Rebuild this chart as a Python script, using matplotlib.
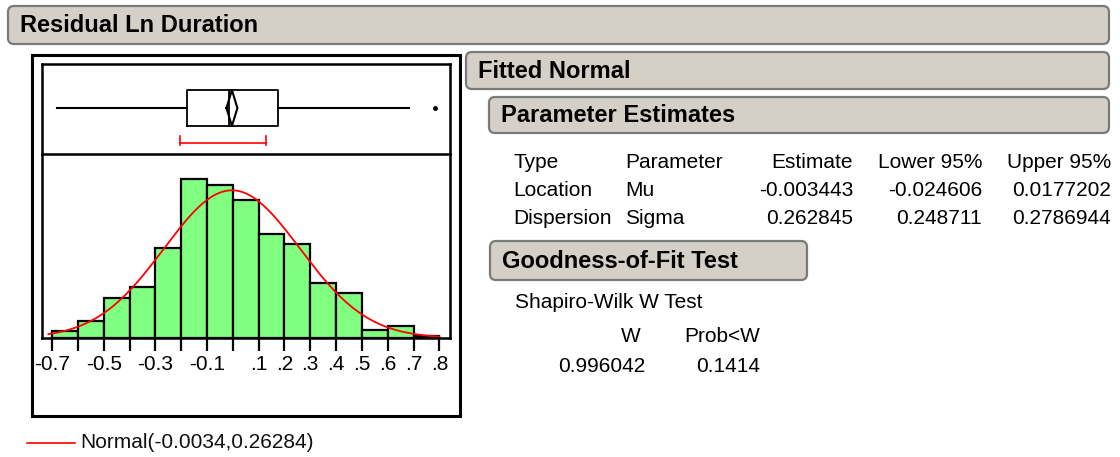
"""Residual Ln Duration: distribution report (box plot, histogram, fitted normal).

"""

import numpy as np
import matplotlib.pyplot as plt
from matplotlib.patches import FancyBboxPatch, Rectangle

plt.rcParams["font.family"] = ["Liberation Sans", "DejaVu Sans"]

# Histogram data (bins of width 0.1)
bin_left = [-0.7, -0.6, -0.5, -0.4, -0.3, -0.2, -0.1, 0.0, 0.1, 0.2, 0.3, 0.4, 0.5, 0.6, 0.7]
bin_width = 0.1
counts = [4, 10, 24, 31, 54, 96, 92, 83, 63, 57, 33, 27, 5, 7, 1]

# Box plot summary
whisker_lo, q1, median, q3, whisker_hi = -0.681, -0.176, -0.015, 0.175, 0.684
outliers = [0.784]
shortest_half = [-0.204, 0.128]

# Axis ticks
tick_values = [-0.7, -0.6, -0.5, -0.4, -0.3, -0.2, -0.1, 0.0, 0.1, 0.2, 0.3, 0.4, 0.5, 0.6, 0.7, 0.8]
tick_labels = ["-0.7", "", "-0.5", "", "-0.3", "", "-0.1", "", ".1", ".2", ".3", ".4", ".5", ".6", ".7", ".8"]

# Parameter estimates table
pe_header = ["Type", "Parameter", "Estimate", "Lower 95%", "Upper 95%"]
pe_type = ["Location", "Dispersion"]
pe_param = ["Mu", "Sigma"]
pe_estimate = [-0.003443, 0.262845]
pe_lower = [-0.024606, 0.248711]
pe_upper = [0.0177202, 0.2786944]

# Goodness-of-fit
sw_header = ["W", "Prob<W"]
sw_values = [0.996042, 0.1414]

mu, sigma = pe_estimate
W, H = 1120, 457

fig = plt.figure(figsize=(W / 100, H / 100), dpi=100)

# Background layer in pixel coordinates
bg = fig.add_axes([0, 0, 1, 1], zorder=0)
bg.set_xlim(0, W)
bg.set_ylim(H, 0)
bg.axis("off")

def header(x0, y0, x1, y1, label):
    box = FancyBboxPatch((x0, y0), x1 - x0, y1 - y0,
                         boxstyle="round,pad=0,rounding_size=6",
                         fc="#D4D0C8", ec="#7A7A7A", lw=1.6)
    bg.add_patch(box)
    bg.text(x0 + 12, (y0 + y1) / 2 + 1, label, fontsize=17, fontweight="bold",
            ha="left", va="center", color="black")

header(8, 6, 1109, 44, "Residual Ln Duration")
header(466, 52, 1109, 89, "Fitted Normal")
header(489, 97, 1109, 133, "Parameter Estimates")
header(490, 241, 807, 280, "Goodness-of-Fit Test")

# Outer frame around the plots
bg.add_patch(Rectangle((32, 55), 428, 361, fill=False, ec="black", lw=2.2))

# Parameter estimates table
fs = 15
rows_y = [162, 190, 218]
bg.text(513, rows_y[0], pe_header[0], fontsize=fs, ha="left", va="center")
bg.text(625, rows_y[0], pe_header[1], fontsize=fs, ha="left", va="center")
for xr, lab in zip([853, 982, 1111], pe_header[2:]):
    bg.text(xr, rows_y[0], lab, fontsize=fs, ha="right", va="center")
for i in range(2):
    y = rows_y[i + 1]
    bg.text(513, y, pe_type[i], fontsize=fs, ha="left", va="center")
    bg.text(625, y, pe_param[i], fontsize=fs, ha="left", va="center")
    bg.text(853, y, f"{pe_estimate[i]:.6f}", fontsize=fs, ha="right", va="center")
    bg.text(982, y, f"{pe_lower[i]:.6f}", fontsize=fs, ha="right", va="center")
    bg.text(1111, y, f"{pe_upper[i]:.7f}", fontsize=fs, ha="right", va="center")

# Shapiro-Wilk
bg.text(515, 302, "Shapiro-Wilk W Test", fontsize=fs, ha="left", va="center")
bg.text(641, 336, sw_header[0], fontsize=fs, ha="right", va="center")
bg.text(760, 336, sw_header[1], fontsize=fs, ha="right", va="center")
bg.text(645, 367, f"{sw_values[0]:.6f}", fontsize=fs, ha="right", va="center")
bg.text(760, 367, f"{sw_values[1]:.4f}", fontsize=fs, ha="right", va="center")

# Legend
bg.plot([27, 75], [443, 443], color="red", lw=1.2)
bg.text(80, 442, f"Normal({mu:.4f},{sigma:.5f})", fontsize=fs, ha="left", va="center",
        color="#111111")

# Plot axes
left, right = 41.7, 450
xlim = (-0.740, 0.841)
ax_hist = fig.add_axes([left / W, 1 - 338 / H, (right - left) / W, 184 / H], zorder=2)
ax_box = fig.add_axes([left / W, 1 - 154 / H, (right - left) / W, 90 / H], zorder=3)
ax_box.patch.set_visible(False)

# Box plot
ax_box.set_xlim(xlim)
ax_box.set_ylim(0, 1)
ax_box.set_xticks([])
ax_box.set_yticks([])
for s in ax_box.spines.values():
    s.set_linewidth(1.8)
lo_b, hi_b, mid = 0.311, 0.711, 0.51
ax_box.plot([whisker_lo, q1], [mid, mid], color="black", lw=1.5)
ax_box.plot([q3, whisker_hi], [mid, mid], color="black", lw=1.5)
ax_box.plot([q1, q3, q3, q1, q1], [lo_b, lo_b, hi_b, hi_b, lo_b], color="black", lw=1.3)
ax_box.plot([median, median], [lo_b, hi_b], color="black", lw=1.3)
ci_lo, ci_hi = pe_lower[0], pe_upper[0]
ax_box.plot([ci_lo, mu, ci_hi, mu, ci_lo], [mid, hi_b, mid, lo_b, mid], color="black", lw=1.5)
ax_box.plot(outliers, [mid] * len(outliers), "o", color="black", ms=2.5)
ax_box.plot(shortest_half, [0.119, 0.119], color="red", lw=1.2)
for xv in shortest_half:
    ax_box.plot([xv, xv], [0.1, 0.2], color="red", lw=1.2)

# Histogram
ax_hist.bar(bin_left, counts, width=bin_width, align="edge", color="#80FF80",
            edgecolor="black", linewidth=1.6)
n = sum(counts)
xs = np.linspace(-0.714, 0.8, 300)
pdf = n * bin_width * np.exp(-0.5 * ((xs - mu) / sigma) ** 2) / (sigma * np.sqrt(2 * np.pi))
ax_hist.plot(xs, pdf, color="red", lw=1.3)
ax_hist.set_xlim(xlim)
ax_hist.set_ylim(0, 111)
ax_hist.set_yticks([])
ax_hist.spines["top"].set_visible(False)
for s in ["left", "right", "bottom"]:
    ax_hist.spines[s].set_linewidth(1.8)
ax_hist.set_xticks(tick_values)
ax_hist.set_xticklabels(tick_labels)
ax_hist.tick_params(axis="x", length=9.5, width=1.6, labelsize=15, pad=3)

plt.savefig("out.png", dpi=100)
